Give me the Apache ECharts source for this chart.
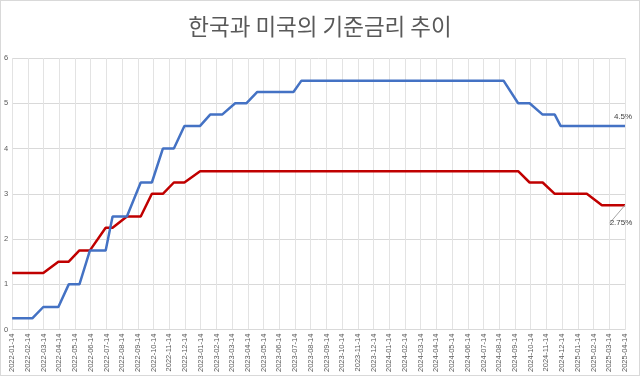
<!DOCTYPE html>
<html>
<head>
<meta charset="utf-8">
<script src="https://cdn.jsdelivr.net/npm/echarts@6/dist/echarts.min.js"></script>
<style>
  html, body { margin: 0; padding: 0; background: #fff; }
  #chart { width: 638px; height: 374px; border: 1px solid #d9d9d9; }
</style>
</head>
<body>
<div id="chart"></div>
<script>
// 월별 눈금 라벨 (x축)
const monthLabels = [
  '2022-01-14', '2022-02-14', '2022-03-14', '2022-04-14', '2022-05-14', '2022-06-14',
  '2022-07-14', '2022-08-14', '2022-09-14', '2022-10-14', '2022-11-14', '2022-12-14',
  '2023-01-14', '2023-02-14', '2023-03-14', '2023-04-14', '2023-05-14', '2023-06-14',
  '2023-07-14', '2023-08-14', '2023-09-14', '2023-10-14', '2023-11-14', '2023-12-14',
  '2024-01-14', '2024-02-14', '2024-03-14', '2024-04-14', '2024-05-14', '2024-06-14',
  '2024-07-14', '2024-08-14', '2024-09-14', '2024-10-14', '2024-11-14', '2024-12-14',
  '2025-01-14', '2025-02-14', '2025-03-14', '2025-04-14'
]

// 금리 결정 시점 (2022-01-14 기준 경과 개월 수)
const decisionMonths = [
  0, 1.28, 1.98, 2.94, 3.6, 4.28, 4.95, 5.95, 6.39, 7.3,
  8.18, 8.89, 9.59, 10.29, 10.96, 11.96, 12.6, 13.36, 14.19, 14.9,
  15.6, 17.9, 18.41, 31.27, 32.2, 32.93, 33.76, 34.53, 34.9, 36.57,
  37.53, 39
]

// 미국 기준금리 (상단)
const usRate = [
  0.25, 0.25, 0.5, 0.5, 1.0, 1.0, 1.75, 1.75, 2.5, 2.5,
  3.25, 3.25, 4.0, 4.0, 4.5, 4.5, 4.75, 4.75, 5.0, 5.0,
  5.25, 5.25, 5.5, 5.5, 5.0, 5.0, 4.75, 4.75, 4.5, 4.5,
  4.5, 4.5
]

// 한국 기준금리
const krRate = [
  1.25, 1.25, 1.25, 1.5, 1.5, 1.75, 1.75, 2.25, 2.25, 2.5,
  2.5, 3.0, 3.0, 3.25, 3.25, 3.5, 3.5, 3.5, 3.5, 3.5,
  3.5, 3.5, 3.5, 3.5, 3.5, 3.25, 3.25, 3.0, 3.0, 3.0,
  2.75, 2.75
]

// 끝점 라벨
const endLabels = ['4.5%', '2.75%']

const textColor = '#595959'

function buildData(rates, lastLabel) {
  const n = rates.length
  return rates.map((v, i) => {
    const item = { value: [decisionMonths[i], v] }
    if (i === n - 1) item.label = lastLabel
    return item
  })
}

const chart = echarts.init(document.getElementById('chart'))

chart.setOption({
  backgroundColor: '#fff',
  animation: false,
  title: {
    text: '한국과 미국의 기준금리 추이',
    left: 'center',
    top: 9,
    textStyle: {
      fontFamily: 'Noto Sans CJK KR',
      fontSize: 22.5,
      fontWeight: 'normal',
      color: textColor
    }
  },
  grid: { left: 11, right: 14, top: 57, bottom: 42 },
  xAxis: {
    type: 'value',
    min: 0,
    max: 39,
    interval: 1,
    axisLine: { show: true, lineStyle: { color: '#d9d9d9' } },
    axisTick: { show: false },
    splitLine: { show: true, lineStyle: { color: '#e3e3e3', width: 1 } },
    axisLabel: {
      rotate: 90,
      margin: 4,
      fontSize: 7.5,
      fontFamily: 'Liberation Sans',
      color: textColor,
      formatter: (v) => monthLabels[v] || ''
    }
  },
  yAxis: {
    type: 'value',
    min: 0,
    max: 6,
    interval: 1,
    axisLine: { show: false },
    axisTick: { show: false },
    splitLine: { lineStyle: { color: '#d9d9d9', width: 1 } },
    axisLabel: {
      margin: 4,
      fontSize: 7.5,
      fontFamily: 'Liberation Sans',
      color: textColor
    }
  },
  series: [
    {
      name: '미국',
      type: 'line',
      data: buildData(usRate, {
        show: true,
        position: 'top',
        distance: 5,
        offset: [-2, 0],
        formatter: endLabels[0],
        fontSize: 8,
        fontFamily: 'Liberation Sans',
        color: '#404040'
      }),
      showSymbol: true,
      symbol: 'circle',
      symbolSize: 0,
      lineStyle: { color: '#4472c4', width: 2.5 },
      itemStyle: { color: '#4472c4' },
      z: 3
    },
    {
      name: '한국',
      type: 'line',
      data: buildData(krRate, {
        show: true,
        position: 'bottom',
        distance: 4,
        formatter: endLabels[1],
        fontSize: 8,
        fontFamily: 'Liberation Sans',
        color: '#404040'
      }),
      showSymbol: true,
      symbol: 'circle',
      symbolSize: 0,
      labelLayout: { dx: -4, dy: 10 },
      labelLine: { show: true, length2: 0, lineStyle: { color: '#a6a6a6', width: 1 } },
      lineStyle: { color: '#c00000', width: 2.5 },
      itemStyle: { color: '#c00000' },
      z: 2
    }
  ]
})
</script>
</body>
</html>
